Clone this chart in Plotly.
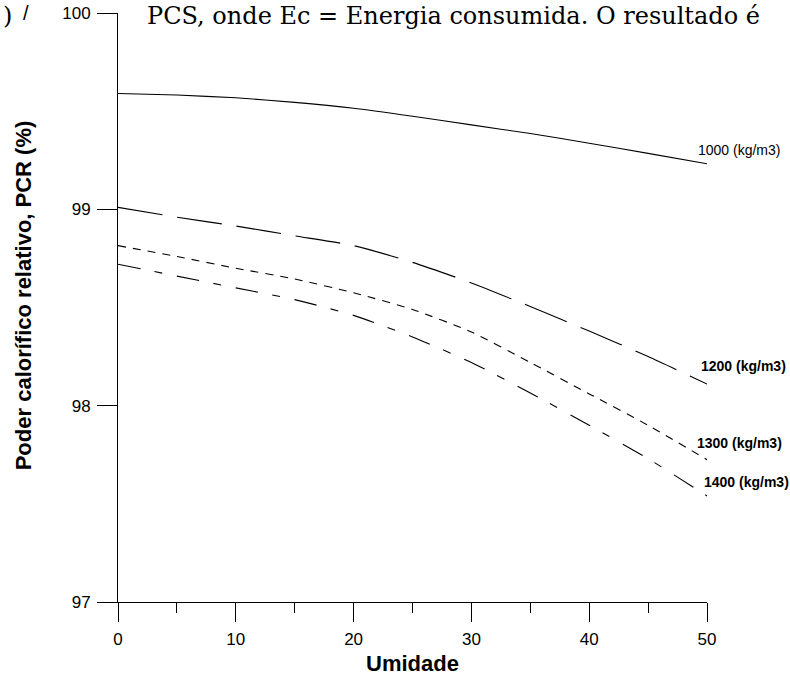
import plotly.graph_objects as go

umidade = [0, 5, 10, 15, 20, 25, 30, 35, 40, 45, 50]
pcr_1000 = [99.59, 99.582, 99.568, 99.545, 99.515, 99.474, 99.43, 99.386, 99.337, 99.285, 99.232]
pcr_1200 = [99.01, 98.96, 98.915, 98.865, 98.815, 98.73, 98.625, 98.505, 98.38, 98.25, 98.11]
pcr_1300 = [98.815, 98.76, 98.70, 98.645, 98.575, 98.49, 98.375, 98.22, 98.06, 97.90, 97.725]
pcr_1400 = [98.72, 98.66, 98.60, 98.54, 98.46, 98.35, 98.22, 98.065, 97.90, 97.73, 97.54]

labels = ["1000 (kg/m3)", "1200 (kg/m3)", "1300 (kg/m3)", "1400 (kg/m3)"]
label_x = [49.1, 49.3, 48.96, 49.6]
label_y = [99.30, 98.20, 97.81, 97.61]
label_bold = [False, True, True, True]

x_ticks = [0, 10, 20, 30, 40, 50]
y_ticks = [97, 98, 99, 100]

SANS = "Liberation Sans, Arial, Helvetica, sans-serif"
SERIF = "DejaVu Serif, Liberation Serif, serif"

fig = go.Figure()
series = [pcr_1000, pcr_1200, pcr_1300, pcr_1400]
dashes = ["solid", "45px,15px", "8px,7px", "23px,14px,8px,15px"]
for vals, d, name in zip(series, dashes, labels):
    fig.add_trace(go.Scatter(x=umidade, y=vals, mode="lines", name=name,
                             line=dict(color="black", width=1.1, dash=d, shape="spline", smoothing=0.6),
                             showlegend=False, hoverinfo="skip"))

for t, xx, yy, b in zip(labels, label_x, label_y, label_bold):
    fig.add_annotation(x=xx, y=yy, xref="x", yref="y", text=("<b>%s</b>" % t) if b else t,
                       showarrow=False, xanchor="left", yanchor="middle",
                       font=dict(family=SANS, size=14, color="black"))

# axis titles
fig.add_annotation(x=0.5, y=-0.104, xref="paper", yref="paper", text="<b>Umidade</b>",
                   showarrow=False, xanchor="center", yanchor="middle",
                   font=dict(family=SANS, size=22, color="black"))
fig.add_annotation(x=-0.161, y=0.521, xref="paper", yref="paper",
                   text="<b>Poder calorífico relativo, PCR (%)</b>", textangle=-90,
                   showarrow=False, xanchor="center", yanchor="middle",
                   font=dict(family=SANS, size=22, color="black"))

# surrounding document text
fig.add_annotation(x=0.0455, y=1.022, xref="paper", yref="paper",
                   text="PCS, onde Ec = Energia consumida. O resultado é",
                   showarrow=False, xanchor="left", yanchor="top",
                   font=dict(family=SERIF, size=24, color="black"))
fig.add_annotation(x=-0.1986, y=1.022, xref="paper", yref="paper", text=")",
                   showarrow=False, xanchor="left", yanchor="top",
                   font=dict(family=SERIF, size=24, color="black"))
fig.add_annotation(x=-0.165, y=1.022, xref="paper", yref="paper", text="/",
                   showarrow=False, xanchor="left", yanchor="top",
                   font=dict(family=SANS, size=20, color="black"))

fig.update_xaxes(range=[0, 50], tickvals=x_ticks, ticks="outside", ticklen=19, tickwidth=1,
                 tickcolor="black", showline=True, linecolor="black", linewidth=1,
                 showgrid=False, zeroline=False, automargin=False, ticklabelstandoff=3,
                 tickfont=dict(family=SANS, size=17, color="black"),
                 minor=dict(dtick=5, tick0=0, ticks="outside", ticklen=10, tickwidth=1,
                            tickcolor="black", showgrid=False))
fig.update_yaxes(range=[97, 100], tickvals=y_ticks, ticks="outside", ticklen=20, tickwidth=1,
                 tickcolor="black", showline=True, linecolor="black", linewidth=1,
                 showgrid=False, zeroline=False, automargin=False, ticklabelstandoff=3,
                 tickfont=dict(family=SANS, size=17, color="black"))

fig.update_layout(width=790, height=675, margin=dict(l=118, r=83, t=13, b=73),
                  paper_bgcolor="white", plot_bgcolor="white")

fig.write_html("out.html")
